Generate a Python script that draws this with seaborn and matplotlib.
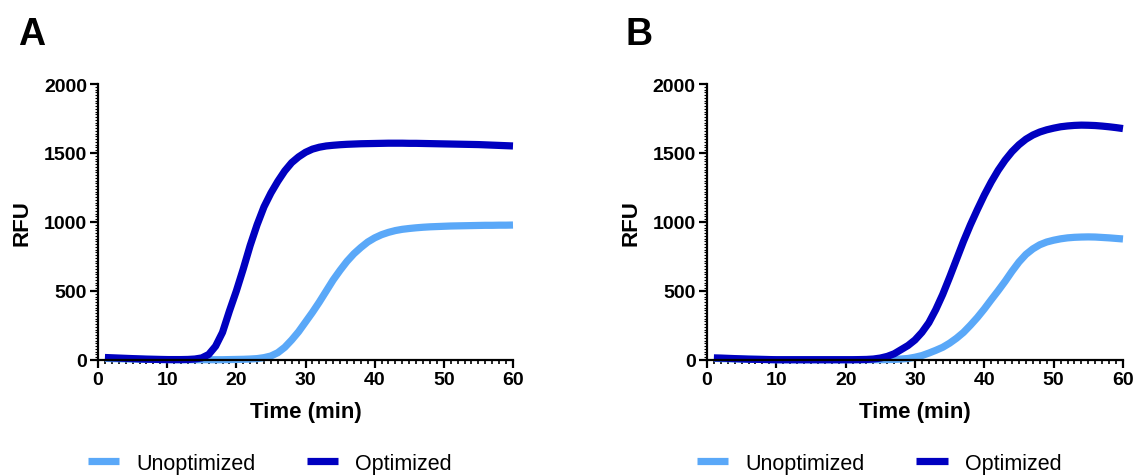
import numpy as np
import pandas as pd
import seaborn as sns
import matplotlib
matplotlib.use("Agg")
import matplotlib.pyplot as plt
from matplotlib.ticker import MultipleLocator

sns.set_style("ticks")
plt.rcParams["font.family"] = ["Liberation Sans", "DejaVu Sans"]
plt.rcParams.update({
    "text.color": "black",
    "axes.labelcolor": "black",
    "xtick.color": "black",
    "ytick.color": "black",
})

time_min = list(range(1, 61))

# panel A
opt_a = [18, 16, 14, 12, 10, 8, 6, 5, 4, 3,
         3, 3, 4, 7, 15, 40, 100, 200, 355, 500,
         660, 830, 980, 1110, 1210, 1295, 1370, 1430, 1472, 1505,
         1528, 1542, 1551, 1556, 1560, 1563, 1565, 1567, 1568, 1569,
         1570, 1571, 1571, 1571, 1570, 1570, 1569, 1568, 1567, 1566,
         1565, 1564, 1563, 1562, 1561, 1559, 1557, 1555, 1553, 1551]
unopt_a = [12, 10, 9, 8, 7, 6, 5, 4, 3, 3,
           2, 2, 2, 2, 2, 2, 2, 2, 3, 4,
           5, 7, 10, 17, 29, 53, 92, 145, 205, 275,
           345, 420, 500, 580, 650, 715, 770, 815, 855, 885,
           908, 925, 938, 947, 953, 958, 962, 965, 967, 969,
           971, 972, 973, 974, 975, 976, 976, 977, 977, 978]

# panel B
opt_b = [15, 14, 12, 10, 8, 6, 5, 4, 3, 2,
         2, 2, 2, 2, 2, 2, 2, 2, 2, 2,
         2, 3, 4, 7, 14, 26, 45, 75, 105, 145,
         200, 270, 365, 475, 600, 730, 860, 980, 1090, 1195,
         1290, 1375, 1448, 1510, 1560, 1600, 1630, 1652, 1668, 1680,
         1690, 1696, 1700, 1702, 1701, 1699, 1695, 1690, 1684, 1677]
unopt_b = [12, 10, 9, 8, 7, 6, 5, 4, 3, 2,
           2, 2, 2, 2, 2, 2, 2, 2, 2, 2,
           2, 2, 2, 2, 2, 3, 4, 7, 11, 20,
           32, 50, 70, 92, 122, 158, 200, 252, 308, 370,
           437, 502, 570, 643, 710, 765, 805, 835, 855, 868,
           878, 885, 889, 891, 892, 891, 888, 885, 881, 877]

groups = ["Unoptimized", "Optimized"]
palette = {"Unoptimized": "#5AA8F8", "Optimized": "#0000C0"}


def long_df(unopt, opt):
    return pd.DataFrame({
        "Time (min)": time_min * 2,
        "RFU": unopt + opt,
        "group": ["Unoptimized"] * len(unopt) + ["Optimized"] * len(opt),
    })


fig = plt.figure(figsize=(11.41, 4.77), dpi=100)
ax_a = fig.add_axes([0.0859, 0.2432, 0.3637, 0.5786])
ax_b = fig.add_axes([0.6196, 0.2432, 0.3646, 0.5786])

panels = [(ax_a, long_df(unopt_a, opt_a), "A", 18),
          (ax_b, long_df(unopt_b, opt_b), "B", 626)]

for ax, df, letter, letter_x in panels:
    sns.lineplot(data=df, x="Time (min)", y="RFU", hue="group", hue_order=groups,
                 palette=palette, linewidth=5.2, ax=ax, clip_on=False,
                 solid_capstyle="butt", solid_joinstyle="round")
    ax.set_xlim(0, 60)
    ax.set_ylim(0, 2000)
    ax.set_xticks([0, 10, 20, 30, 40, 50, 60])
    ax.set_yticks([0, 500, 1000, 1500, 2000])
    ax.xaxis.set_minor_locator(MultipleLocator(1))
    ax.yaxis.set_minor_locator(MultipleLocator(20))
    sns.despine(ax=ax)
    for side in ["left", "bottom"]:
        ax.spines[side].set_linewidth(1.6)
        ax.spines[side].set_color("black")
    ax.tick_params(which="major", length=6, width=1.6, color="black",
                   labelcolor="black", labelsize=14, pad=2)
    ax.tick_params(axis="x", which="minor", length=3, width=1.2, color="black")
    ax.tick_params(axis="y", which="minor", length=2, width=0.8, color="black")
    for lab in ax.get_xticklabels() + ax.get_yticklabels():
        lab.set_fontweight("bold")
    ax.set_xlabel("Time (min)", fontsize=16, fontweight="bold", labelpad=9)
    ax.set_ylabel("RFU", fontsize=16, fontweight="bold", labelpad=8)

    handles, labels = ax.get_legend_handles_labels()
    for h in handles:
        h.set_linewidth(5.2)
    ax.legend(handles, labels, loc="center", bbox_to_anchor=(0.414, -0.375),
              ncol=2, frameon=False, fontsize=15.5, handlelength=1.45,
              handletextpad=0.8, columnspacing=2.4)

    fig.text(letter_x / 1141, 1 - 17 / 477, letter, ha="left", va="top",
             fontsize=27, fontweight="bold", color="black")

fig.savefig("out.png", dpi=100)
